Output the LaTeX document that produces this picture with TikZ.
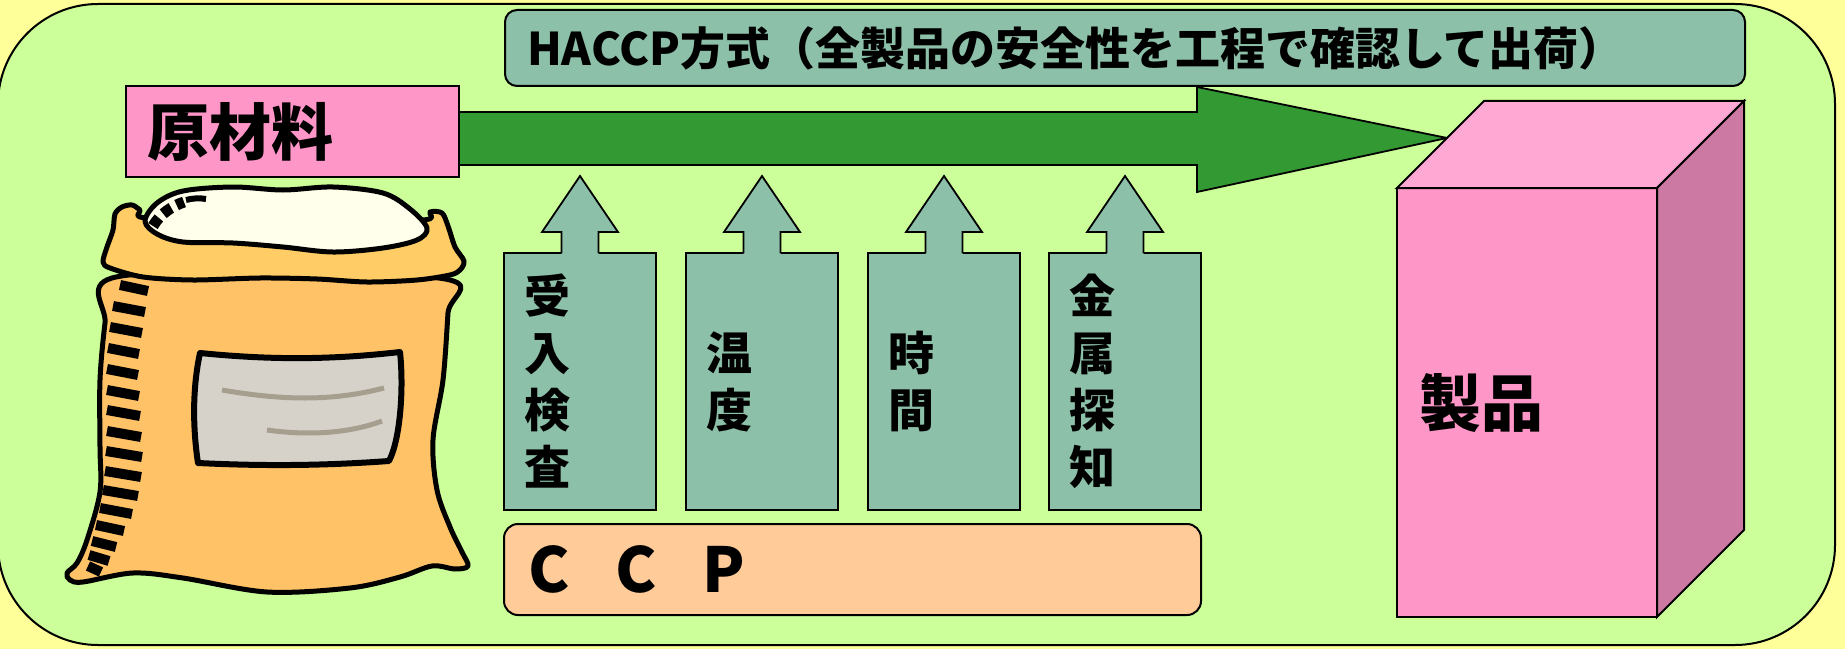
\documentclass[tikz,border=0pt]{standalone}
\usepackage{fontspec}
\newfontfamily\jp{Noto Sans CJK JP}
\usetikzlibrary{calc}

\definecolor{bgyellow}{HTML}{FFFF99}
\definecolor{panelgreen}{HTML}{CCFF99}
\definecolor{tealbox}{HTML}{8CC0A8}
\definecolor{rawpink}{HTML}{FF96C8}
\definecolor{arrowgreen}{HTML}{339933}
\definecolor{cubefront}{HTML}{FF96C8}
\definecolor{cubetop}{HTML}{FFA8D3}
\definecolor{cubeside}{HTML}{CC79A3}
\definecolor{ccporange}{HTML}{FFCC99}
\definecolor{sackbody}{HTML}{FFC266}
\definecolor{sackcollar}{HTML}{FFCC66}
\definecolor{sacktop}{HTML}{FFFFEB}
\definecolor{sacklabel}{HTML}{D6D2C9}
\definecolor{sackink}{HTML}{A69E8F}

\begin{document}
\begin{tikzpicture}[x=1bp, y=-1bp, line join=miter,
  edge/.style={draw=black, line width=2bp},
  plainbox/.style={edge, anchor=north west, outer sep=0pt, inner ysep=0pt, align=left},
  rawbox/.style={plainbox, fill=rawpink, minimum height=91bp, inner xsep=21bp, text width=291bp,
    font=\jp\bfseries\fontsize{62bp}{70bp}\selectfont},
  titlebox/.style={plainbox, fill=tealbox, rounded corners=12bp, minimum height=76bp, inner xsep=22bp, text width=1196bp,
    font=\jp\bfseries\fontsize{45bp}{50bp}\selectfont},
  stepbox/.style={plainbox, fill=tealbox, minimum height=257bp, inner xsep=20bp, text width=112bp,
    font=\jp\bfseries\fontsize{46bp}{57bp}\selectfont},
  ccpbox/.style={plainbox, fill=ccporange, rounded corners=14bp, minimum height=91bp, inner xsep=24bp, text width=649bp,
    font=\jp\bfseries\fontsize{62bp}{70bp}\selectfont},
  frontface/.style={plainbox, fill=cubefront, minimum height=429bp, inner xsep=22bp, text width=216bp,
    font=\jp\bfseries\fontsize{62bp}{70bp}\selectfont},
  sackline/.style={draw=black, line width=5bp, line join=round, line cap=round},
  sackbar/.style={black, line width=10bp},
]
\useasboundingbox (0,0) rectangle (1845,649);
\fill[bgyellow] (0,0) rectangle (1845,649);

% outer panel
\draw[edge, fill=panelgreen, rounded corners=100bp] (-2,4) rectangle (1835,645);

% ---- sack of raw material ----
% body
\draw[sackline, fill=sackbody] plot[smooth cycle, tension=0.55] coordinates {
  (112,278) (105,323) (100,380) (100,447) (100,492) (87,540) (77,563) (67,573) (70,580) (83,582)
  (133,573) (183,578) (267,592) (350,588) (400,577) (432,566) (455,569) (468,566) (462,552)
  (450,527) (437,490) (433,440) (443,380) (448,313) (450,280) (283,272)};
% side stitching
\foreach \y/\a/\b in {285/120/148, 306/113/145, 327/110/142, 348/108/139, 369/107/138, 390/107/139,
  410/107/140, 431/107/141, 451/106/142, 471/105/141, 490/103/138, 508/100/132, 525/96/124,
  541/92/116, 555/89/109, 566/88/101}
  \draw[sackbar] (\a,\y) -- (\b,\y+6);
% rolled collar
\draw[sackline, fill=sackcollar] plot[smooth cycle, tension=0.5] coordinates {
  (103,262) (107,247) (113,230) (115,214) (122,207) (132,205) (140,210) (149,218) (283,212)
  (420,220) (430,212) (442,213) (448,226) (455,247) (464,261) (460,270) (450,275) (417,280)
  (367,282) (317,279) (260,278) (193,280) (143,277) (110,268)};
% open top
\draw[sackline, fill=sacktop] plot[smooth cycle, tension=0.55] coordinates {
  (145,221) (157,203) (183,191) (233,187) (283,190) (333,187) (383,193) (410,209) (427,228)
  (417,240) (383,248) (333,252) (283,247) (233,243) (183,242) (157,234)};
\draw[black, line width=11bp, dash pattern=on 10bp off 6bp] (153,226) .. controls (160,214) and (172,206) .. (184,202);
\draw[black, line width=6bp] (186,200) .. controls (193,198) and (200,198) .. (206,199);
% label
\draw[sackline, line width=6bp, fill=sacklabel] (200,353) .. controls (270,360) and (330,360) .. (400,352)
  .. controls (404,390) and (400,440) .. (389,461) .. controls (320,466) and (260,466) .. (198,463)
  .. controls (193,430) and (192,390) .. cycle;
\draw[sackink, line width=5bp] (222,390) .. controls (280,400) and (330,402) .. (384,388);
\draw[sackink, line width=5bp] (267,430) .. controls (310,436) and (350,433) .. (382,421);

% ---- boxes ----
\node[rawbox] (raw) at (126,86) {原材料};
\node[titlebox] (haccp) at (505,10) {HACCP方式（全製品の安全性を工程で確認して出荷）};
\node[stepbox] (s1) at (504,253) {受\\入\\検\\査};
\node[stepbox] (s2) at (686,253) {温\\度};
\node[stepbox] (s3) at (868,253) {時\\間};
\node[stepbox] (s4) at (1049,253) {金\\属\\探\\知};
\node[ccpbox] (ccp) at (504,524) {C\hspace{46bp}C\hspace{46bp}P};
\node[frontface] (prod) at (1397,188) {製品};

% up arrows rising from each control point
\foreach \n in {s1,s2,s3,s4}{
  \fill[tealbox] ($(\n.north)+(-18.5,2)$) -- ($(\n.north)+(-18.5,-21)$) -- ($(\n.north)+(-38,-21)$)
    -- ($(\n.north)+(0,-77)$) -- ($(\n.north)+(38,-21)$) -- ($(\n.north)+(18.5,-21)$)
    -- ($(\n.north)+(18.5,2)$) -- cycle;
  \draw[edge, line width=1.8bp] ($(\n.north)+(-18.5,0)$) -- ($(\n.north)+(-18.5,-21)$) -- ($(\n.north)+(-38,-21)$)
    -- ($(\n.north)+(0,-77)$) -- ($(\n.north)+(38,-21)$) -- ($(\n.north)+(18.5,-21)$)
    -- ($(\n.north)+(18.5,0)$);
}

% main flow arrow from raw material to product
\coordinate (ptop) at ($(prod.north west)+(87,-87)$);
\coordinate (tip) at ($(prod.north west)!0.575!(ptop)$);
\draw[edge, line width=1.8bp, fill=arrowgreen] (raw.east |- 0,112) -- (1197,112) -- (1197,87) -- (tip)
  -- (1197,192) -- (1197,165) -- (raw.east |- 0,165) -- cycle;

% product cube faces
\draw[edge, fill=cubetop] (prod.north west) -- (ptop) -- ($(prod.north east)+(87,-87)$) -- (prod.north east) -- cycle;
\draw[edge, fill=cubeside] (prod.north east) -- ($(prod.north east)+(87,-87)$) -- ($(prod.south east)+(87,-87)$) -- (prod.south east) -- cycle;
\end{tikzpicture}
\end{document}
